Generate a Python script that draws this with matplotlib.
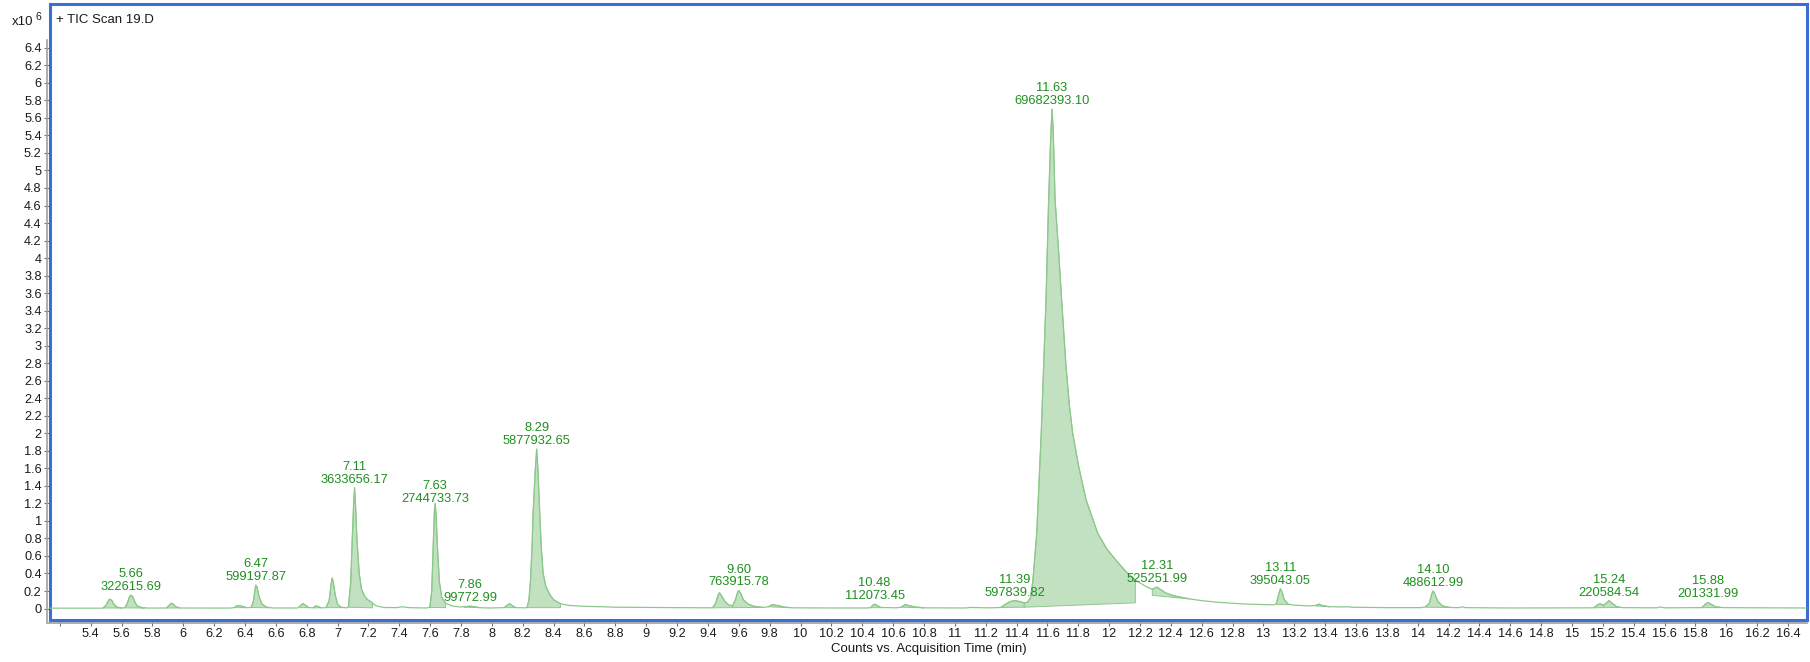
import numpy as np
import matplotlib.pyplot as plt
from matplotlib.lines import Line2D

# ------------------------
# Chromatogram trace (time in min, signal in 1e6 counts)
# ------------------------
trace_min = [
    5.136, 5.47,
    5.48, 5.50, 5.515, 5.523, 5.535, 5.55, 5.57, 5.60,
    5.62, 5.635, 5.65, 5.66, 5.67, 5.685, 5.70, 5.73, 5.78,
    5.89, 5.905, 5.92, 5.935, 5.95, 5.98, 6.30,
    6.33, 6.345, 6.36, 6.38, 6.41,
    6.44, 6.455, 6.465, 6.47, 6.478, 6.49, 6.51, 6.54, 6.58, 6.74,
    6.755, 6.775, 6.79, 6.81,
    6.84, 6.86, 6.875, 6.895,
    6.925, 6.945, 6.958, 6.965, 6.972, 6.985, 7.00, 7.02, 7.06,
    7.07, 7.085, 7.095, 7.104, 7.11, 7.117, 7.125, 7.14, 7.155, 7.175,
    7.195, 7.21, 7.226, 7.25, 7.30, 7.38, 7.42, 7.46, 7.58,
    7.598, 7.61, 7.62, 7.627, 7.632, 7.638, 7.647, 7.66, 7.675, 7.70,
    7.74, 7.79, 7.82, 7.86, 7.88, 7.92, 7.98,
    8.08, 8.10, 8.115, 8.13, 8.155, 8.22,
    8.228, 8.24, 8.25, 8.26, 8.267, 8.28, 8.29, 8.298, 8.31, 8.32,
    8.332, 8.35, 8.375, 8.40, 8.444, 8.50, 8.60, 8.72, 8.80, 9.00,
    9.20, 9.42,
    9.43, 9.45, 9.465, 9.475, 9.49, 9.51, 9.535, 9.56,
    9.58, 9.593, 9.60, 9.61, 9.63, 9.66, 9.70, 9.76,
    9.79, 9.82, 9.85, 9.90, 9.95, 10.20, 10.43,
    10.455, 10.47, 10.48, 10.495, 10.52, 10.62,
    10.65, 10.68, 10.70, 10.74, 10.80, 11.07, 11.10, 11.20, 11.28,
    11.30, 11.33, 11.36, 11.39, 11.42, 11.45,
    11.47, 11.49, 11.505, 11.531, 11.56, 11.591, 11.608, 11.622, 11.63,
    11.638, 11.65, 11.672, 11.695, 11.721, 11.742, 11.764, 11.803, 11.851,
    11.926, 11.985, 12.045, 12.11, 12.17, 12.24, 12.28,
    12.31, 12.33, 12.37, 12.42, 12.52, 12.60, 12.70, 12.80, 12.90,
    13.00, 13.07,
    13.085, 13.10, 13.11, 13.12, 13.135, 13.16, 13.20, 13.30,
    13.34, 13.36, 13.38, 13.42, 13.50, 13.55, 13.57, 13.80, 14.02,
    14.05, 14.075, 14.09, 14.10, 14.11, 14.13, 14.16, 14.21, 14.27,
    14.29, 14.31, 14.60,
    15.14, 15.165, 15.18, 15.20, 15.215, 15.24, 15.26, 15.29, 15.33,
    15.55, 15.57, 15.60,
    15.84, 15.865, 15.88, 15.90, 15.93, 15.98, 16.523,
]
trace_counts = [
    0.004, 0.004,
    0.006, 0.04, 0.09, 0.107, 0.095, 0.05, 0.015, 0.006,
    0.008, 0.05, 0.13, 0.153, 0.14, 0.08, 0.03, 0.01, 0.005,
    0.006, 0.03, 0.06, 0.05, 0.02, 0.006, 0.005,
    0.01, 0.028, 0.035, 0.025, 0.01,
    0.012, 0.09, 0.22, 0.267, 0.24, 0.14, 0.05, 0.015, 0.006, 0.006,
    0.025, 0.057, 0.04, 0.012,
    0.008, 0.03, 0.02, 0.008,
    0.01, 0.09, 0.28, 0.35, 0.30, 0.15, 0.05, 0.015, 0.008,
    0.02, 0.30, 0.80, 1.20, 1.38, 1.15, 0.80, 0.40, 0.22, 0.14,
    0.10, 0.085, 0.06, 0.03, 0.012, 0.01, 0.02, 0.01, 0.006,
    0.015, 0.20, 0.75, 1.10, 1.20, 1.08, 0.70, 0.30, 0.13, 0.06,
    0.03, 0.018, 0.02, 0.027, 0.022, 0.01, 0.006,
    0.01, 0.04, 0.055, 0.035, 0.01, 0.008,
    0.012, 0.10, 0.32, 0.70, 1.09, 1.55, 1.82, 1.60, 1.09, 0.70,
    0.40, 0.25, 0.16, 0.10, 0.055, 0.035, 0.025, 0.02, 0.015, 0.012,
    0.01, 0.008,
    0.008, 0.06, 0.15, 0.18, 0.14, 0.08, 0.04, 0.03,
    0.11, 0.19, 0.205, 0.18, 0.10, 0.05, 0.025, 0.012,
    0.02, 0.045, 0.035, 0.015, 0.008, 0.006, 0.006,
    0.01, 0.04, 0.05, 0.035, 0.012, 0.008,
    0.015, 0.045, 0.035, 0.018, 0.008, 0.006, 0.012, 0.008, 0.01,
    0.015, 0.05, 0.08, 0.09, 0.08, 0.065,
    0.07, 0.12, 0.30, 0.86, 2.00, 3.52, 4.66, 5.40, 5.70,
    5.45, 4.66, 4.10, 3.45, 2.76, 2.33, 2.00, 1.62, 1.24,
    0.86, 0.68, 0.55, 0.42, 0.325, 0.25, 0.22,
    0.245, 0.22, 0.175, 0.145, 0.11, 0.09, 0.072, 0.06, 0.05,
    0.045, 0.042,
    0.06, 0.17, 0.225, 0.19, 0.10, 0.05, 0.038, 0.03,
    0.035, 0.05, 0.035, 0.022, 0.018, 0.02, 0.015, 0.01, 0.01,
    0.02, 0.06, 0.16, 0.20, 0.17, 0.08, 0.03, 0.012, 0.01,
    0.02, 0.01, 0.006,
    0.008, 0.04, 0.055, 0.04, 0.05, 0.09, 0.06, 0.02, 0.01,
    0.008, 0.018, 0.008,
    0.01, 0.05, 0.07, 0.05, 0.02, 0.01, 0.006,
]

# Integrated peak windows: start / end time and integration baseline level
int_start = [5.48, 5.62, 5.89, 6.33, 6.44, 6.755, 6.84, 6.925, 7.07, 7.598,
             7.82, 8.08, 8.228, 9.43, 9.56, 9.79, 10.455, 10.65, 11.30, 11.45,
             12.28, 13.085, 13.34, 14.05, 15.14, 15.205, 15.84]
int_end = [5.60, 5.75, 5.98, 6.41, 6.56, 6.81, 6.895, 7.03, 7.226, 7.70,
           7.92, 8.155, 8.444, 9.56, 9.76, 9.93, 10.53, 10.80, 11.45, 12.17,
           12.52, 13.17, 13.43, 14.21, 15.205, 15.31, 15.96]
int_base0 = [0.006, 0.008, 0.006, 0.01, 0.012, 0.01, 0.008, 0.01, 0.015, 0.012,
             0.015, 0.01, 0.01, 0.008, 0.01, 0.02, 0.01, 0.015, 0.012, 0.015,
             0.15, 0.045, 0.03, 0.015, 0.008, 0.01, 0.01]
int_base1 = [0.006, 0.005, 0.006, 0.01, 0.008, 0.01, 0.008, 0.01, 0.008, 0.01,
             0.01, 0.01, 0.01, 0.01, 0.012, 0.01, 0.01, 0.008, 0.015, 0.065,
             0.11, 0.045, 0.02, 0.012, 0.01, 0.012, 0.01]

# Labelled peaks: retention time and area
label_rt = [5.66, 6.47, 7.11, 7.63, 7.86, 8.29, 9.60, 10.48, 11.39, 11.63,
            12.31, 13.11, 14.10, 15.24, 15.88]
label_area = [322615.69, 599197.87, 3633656.17, 2744733.73, 99772.99,
              5877932.65, 763915.78, 112073.45, 597839.82, 69682393.10,
              525251.99, 395043.05, 488612.99, 220584.54, 201331.99]

x_ticks = np.round(np.arange(5.2, 16.41, 0.2), 1)
y_ticks = np.round(np.arange(0, 6.41, 0.2), 1)

# ------------------------
# Styling
# ------------------------
plt.rcParams['font.family'] = ['Liberation Sans', 'DejaVu Sans']
line_col = '#8cc88c'
fill_col = '#c2e1c0'
text_col = '#1f8f1f'
frame_col = '#3a6fd6'

W, H = 1810, 662
fig = plt.figure(figsize=(W / 100, H / 100), dpi=100)
ax = fig.add_axes([50 / W, 1 - 620 / H, 1757 / W, 616 / H])

t = np.array(trace_min)
s = np.array(trace_counts)

# integrated areas
for a, b, b0, b1 in zip(int_start, int_end, int_base0, int_base1):
    inside = (t > a) & (t < b)
    xs = np.concatenate([[a], t[inside], [b]])
    ys = np.concatenate([[np.interp(a, t, s)], s[inside], [np.interp(b, t, s)]])
    base = b0 + (b1 - b0) * (xs - a) / (b - a)
    px = np.concatenate([xs, xs[::-1]])
    py = np.concatenate([ys, base[::-1]])
    ax.fill(px, py, facecolor=fill_col, edgecolor=line_col, lw=0.7, zorder=2)

ax.plot(t, s, color=line_col, lw=0.9, zorder=3)

# peak annotations
for rt, area in zip(label_rt, label_area):
    apex = np.interp(rt, t, s)
    ax.annotate(f"{rt:.2f}\n{area:.2f}", xy=(rt, apex), xytext=(0, 1.5),
                textcoords='offset points', ha='center', va='bottom',
                fontsize=9.3, color=text_col, linespacing=1.1, zorder=4)

ax.set_xlim(5.136, 16.523)
ax.set_ylim(-0.131, 6.90)

ax.set_xticks(x_ticks)
ax.set_xticklabels(['' if v == 5.2 else f"{v:g}" for v in x_ticks])
ax.set_yticks(y_ticks)
ax.set_yticklabels([f"{v:g}" for v in y_ticks])
ax.tick_params(axis='both', direction='out', length=4.5, width=0.8,
               color='#707070', labelsize=9.2, labelcolor='#1a1a1a', pad=1.5)

for sp in ax.spines.values():
    sp.set_color(frame_col)
    sp.set_linewidth(2.2)

# gray axis lines just outside the frame
fig.add_artist(Line2D([47 / W, 47 / W], [1 - 622 / H, 1 - 40 / H],
                      color='#a0a0a0', lw=1.2))
fig.add_artist(Line2D([47 / W, 1807 / W], [1 - 623 / H, 1 - 623 / H],
                      color='#a0a0a0', lw=1.2))

ax.set_xlabel("Counts vs. Acquisition Time (min)", fontsize=9.5,
              color='#1a1a1a', labelpad=2)

fig.text(56 / W, 1 - 20 / H, "+ TIC Scan 19.D", fontsize=9.5,
         color='#1a1a1a', ha='left', va='center')
fig.text(12 / W, 1 - 22 / H, "x10", fontsize=9.5, color='#1a1a1a',
         ha='left', va='center')
fig.text(36 / W, 1 - 17 / H, "6", fontsize=7.5, color='#1a1a1a',
         ha='left', va='center')

fig.savefig("out.png", dpi=100)
